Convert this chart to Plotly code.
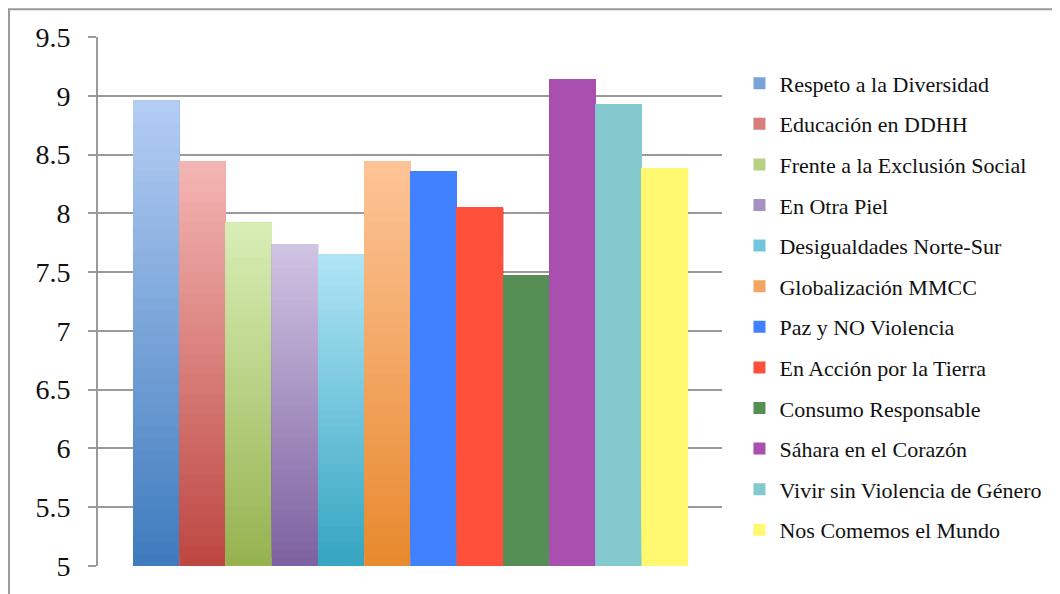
import plotly.graph_objects as go

names = ["Respeto a la Diversidad", "Educación en DDHH", "Frente a la Exclusión Social",
         "En Otra Piel", "Desigualdades Norte-Sur", "Globalización MMCC",
         "Paz y NO Violencia", "En Acción por la Tierra", "Consumo Responsable",
         "Sáhara en el Corazón", "Vivir sin Violencia de Género", "Nos Comemos el Mundo"]
values = [8.96, 8.44, 7.92, 7.74, 7.65, 8.44, 8.36, 8.05, 7.47, 9.14, 8.93, 8.38]
# (top colour, bottom colour) for gradient bars; identical pair = solid
colors = [("#b4cdf3", "#3e7bbd"), ("#f4b6b4", "#bd4641"), ("#d9eeb6", "#96b24f"),
          ("#d0c4e3", "#7d61a0"), ("#b1e5f6", "#34a5c1"), ("#fdc498", "#e8892d"),
          ("#4181fe", "#4181fe"), ("#fe4f3a", "#fe4f3a"), ("#568f56", "#568f56"),
          ("#a94fb0", "#a94fb0"), ("#84c9ce", "#84c9ce"), ("#fff870", "#fff870")]
y_ticks = [5, 5.5, 6, 6.5, 7, 7.5, 8, 8.5, 9, 9.5]
y_min, y_max = 5, 9.5
N_SEG = 40

def hx(c):
    return tuple(int(c[i:i + 2], 16) for i in (1, 3, 5))

def mix(a, b, t):
    a, b = hx(a), hx(b)
    return "rgb(%d,%d,%d)" % tuple(round(a[k] + (b[k] - a[k]) * t) for k in range(3))

fig = go.Figure()
for i, (n, v, (ct, cb)) in enumerate(zip(names, values, colors)):
    h = (v - y_min) / N_SEG
    # first layer: full bar in the middle tone (also the legend swatch),
    # then overlapping gradient layers from each step up to the bar's value
    bases = [y_min] + [y_min + k * h for k in range(N_SEG)]
    heights = [v - b for b in bases]
    segcols = [mix(cb, ct, 0.5)] + [mix(cb, ct, (k + 0.5) / N_SEG) for k in range(N_SEG)]
    fig.add_trace(go.Bar(
        x=[i] * len(bases), y=heights, base=bases, width=1.0, name=n,
        marker=dict(color=segcols, line=dict(width=0)),
        legendgroup=n, hoverinfo="skip"))

fig.update_layout(
    width=1052, height=586, barmode="overlay",
    paper_bgcolor="white", plot_bgcolor="white",
    margin=dict(l=90, r=338, t=29, b=23),
    font=dict(family="Liberation Serif", color="#111"),
    showlegend=True,
    legend=dict(x=1.028, y=0.952, xanchor="left", yanchor="top",
                font=dict(size=22, family="Liberation Serif"),
                tracegroupgap=9, bgcolor="rgba(0,0,0,0)"),
    xaxis=dict(range=[-1.257, 12.235], showticklabels=False, showgrid=False,
               zeroline=False, ticks="", showline=False),
    yaxis=dict(range=[y_min, y_max], tickvals=y_ticks,
               ticktext=[("%g" % t) for t in y_ticks],
               showgrid=True, gridcolor="#9a9a9a", gridwidth=2,
               zeroline=False, showline=True, linecolor="#9a9a9a", linewidth=2,
               ticks="outside", ticklen=8, tickcolor="#9a9a9a", tickwidth=2,
               ticklabelstandoff=12,
               tickfont=dict(size=28, family="Liberation Serif", color="#111")),
    shapes=[dict(type="rect", xref="paper", yref="paper",
                 x0=-0.1426, x1=1.7, y0=-0.2, y1=1.0524,
                 line=dict(color="#9a9a9a", width=2), fillcolor="rgba(0,0,0,0)",
                 layer="below")],
)
fig.write_html("out.html")
